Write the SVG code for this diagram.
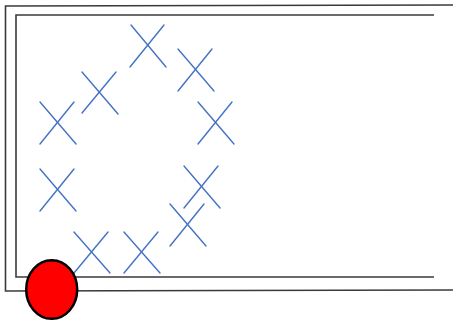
<svg xmlns="http://www.w3.org/2000/svg" width="453" height="322" viewBox="0 0 453 322">
<style>
.frame{fill:none;stroke:#3a3a3a;stroke-width:1.6}
.x line{stroke:#4472C4;stroke-width:1.4;stroke-linecap:round}
</style>
<rect width="453" height="322" fill="#fff"/>
<g id="outer-frame">
<polyline class="frame" points="453,5 5.5,6 5.5,291 453,290"/>
</g>
<g id="inner-frame">
<polyline class="frame" points="434,15 16,15 16,277 434,277"/>
</g>
<g id="marks" class="x">
<g id="x1"><line x1="130" y1="67" x2="164" y2="25"/><line x1="131" y1="25" x2="166" y2="67"/></g>
<g id="x2"><line x1="82" y1="113" x2="116" y2="72"/><line x1="82" y1="72" x2="118" y2="114"/></g>
<g id="x3"><line x1="40" y1="144" x2="74" y2="102"/><line x1="40" y1="102" x2="76" y2="144"/></g>
<g id="x4"><line x1="178" y1="91" x2="212" y2="49"/><line x1="178" y1="49" x2="214" y2="91"/></g>
<g id="x5"><line x1="198" y1="144" x2="232" y2="102"/><line x1="198" y1="102" x2="234" y2="144"/></g>
<g id="x6"><line x1="40" y1="211" x2="74" y2="169"/><line x1="40" y1="169" x2="76" y2="211"/></g>
<g id="x7"><line x1="184" y1="208" x2="218" y2="166"/><line x1="184" y1="166" x2="220" y2="208"/></g>
<g id="x8"><line x1="170" y1="246" x2="204" y2="204"/><line x1="170" y1="204" x2="206" y2="246"/></g>
<g id="x9"><line x1="74" y1="273" x2="108" y2="232"/><line x1="74" y1="232" x2="110" y2="273"/></g>
<g id="x10"><line x1="124" y1="273" x2="158" y2="232"/><line x1="124" y1="232" x2="160" y2="273"/></g>
</g>
<g id="red-ball">
<ellipse cx="51.7" cy="289.5" rx="25.5" ry="29.3" fill="#ff0000" stroke="#000" stroke-width="2.5"/>
</g>
</svg>
